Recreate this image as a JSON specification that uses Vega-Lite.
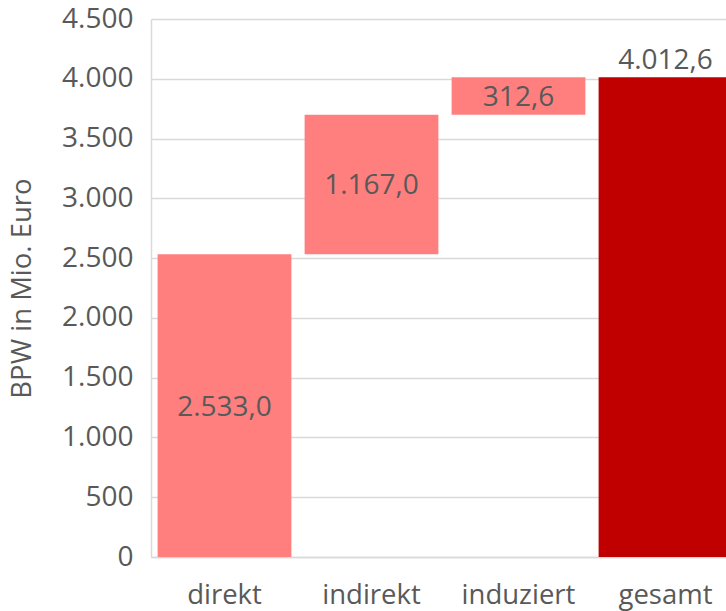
{
  "$schema": "https://vega.github.io/schema/vega-lite/v6.json",
  "autosize": "none",
  "width": 588,
  "height": 538,
  "padding": {"left": 151, "top": 19, "right": 0, "bottom": 54},
  "background": "white",
  "config": {
    "locale": {"number": {"decimal": ",", "thousands": ".", "grouping": [3], "currency": ["", " €"]}},
    "font": "Open Sans",
    "view": {"stroke": null}
  },
  "data": {
    "values": [
      {"kategorie": "direkt", "start": 0, "end": 2533.0, "wert": 2533.0, "typ": "teil"},
      {"kategorie": "indirekt", "start": 2533.0, "end": 3700.0, "wert": 1167.0, "typ": "teil"},
      {"kategorie": "induziert", "start": 3700.0, "end": 4012.6, "wert": 312.6, "typ": "teil"},
      {"kategorie": "gesamt", "start": 0, "end": 4012.6, "wert": 4012.6, "typ": "gesamt"}
    ]
  },
  "encoding": {
    "x": {
      "field": "kategorie", "type": "nominal", "sort": null,
      "scale": {"paddingInner": 0.09, "paddingOuter": 0.045},
      "axis": {
        "title": null, "labelAngle": 0, "labelFontSize": 27.5, "labelColor": "#595959",
        "labelPadding": 24, "ticks": false, "domainColor": "#d9d9d9", "domainWidth": 1.5,
        "labelFont": "Open Sans"
      }
    }
  },
  "layer": [
    {
      "mark": {"type": "bar"},
      "encoding": {
        "y": {
          "field": "start", "type": "quantitative",
          "scale": {"domain": [0, 4500], "nice": false},
          "axis": {
            "title": "BPW in Mio. Euro", "titleFontSize": 27.5, "titleFontWeight": "normal",
            "titleColor": "#595959", "titlePadding": 25, "titleFont": "Open Sans",
            "values": [0, 500, 1000, 1500, 2000, 2500, 3000, 3500, 4000, 4500],
            "format": ",d", "labelFontSize": 28, "labelColor": "#595959", "labelPadding": 18,
            "ticks": false, "domainColor": "#d9d9d9", "domainWidth": 1.5,
            "gridColor": "#d9d9d9", "gridWidth": 1.5, "labelFont": "Open Sans"
          }
        },
        "y2": {"field": "end"},
        "color": {
          "field": "typ", "type": "nominal",
          "scale": {"domain": ["teil", "gesamt"], "range": ["#FF7F7F", "#C00000"]},
          "legend": null
        }
      }
    },
    {
      "transform": [
        {"filter": "datum.typ === 'teil'"},
        {"calculate": "(datum.start + datum.end) / 2", "as": "mitte"}
      ],
      "mark": {"type": "text", "fontSize": 28, "color": "#595959", "baseline": "middle", "dy": 2, "font": "Open Sans"},
      "encoding": {
        "y": {"field": "mitte", "type": "quantitative"},
        "text": {"field": "wert", "type": "quantitative", "format": ",.1f"}
      }
    },
    {
      "transform": [{"filter": "datum.typ === 'gesamt'"}],
      "mark": {"type": "text", "fontSize": 28, "color": "#595959", "baseline": "bottom", "dy": -2, "font": "Open Sans"},
      "encoding": {
        "y": {"field": "end", "type": "quantitative"},
        "text": {"field": "wert", "type": "quantitative", "format": ",.1f"}
      }
    }
  ]
}
